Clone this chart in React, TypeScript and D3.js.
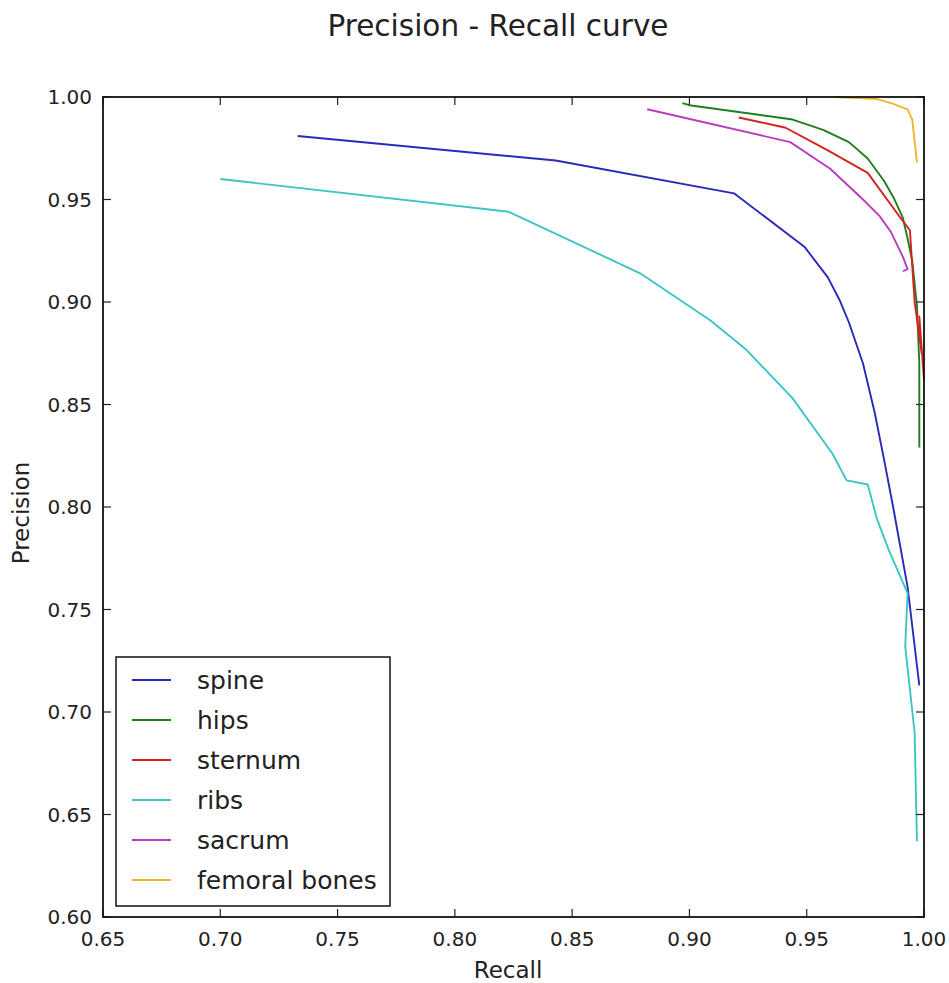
import React from 'react';
import * as d3 from 'd3';

// recall, precision pairs
const spine: [number, number][] = [
  [0.733, 0.981], [0.843, 0.969], [0.919, 0.953], [0.949, 0.927], [0.959, 0.912],
  [0.964, 0.901], [0.968, 0.890], [0.974, 0.870], [0.979, 0.846], [0.983, 0.823],
  [0.987, 0.799], [0.993, 0.761], [0.998, 0.713],
];
const hips: [number, number][] = [
  [0.897, 0.997], [0.900, 0.996], [0.944, 0.989], [0.957, 0.984], [0.968, 0.978],
  [0.976, 0.970], [0.983, 0.959], [0.987, 0.951], [0.991, 0.941], [0.993, 0.931],
  [0.995, 0.920], [0.997, 0.898], [0.998, 0.870], [0.998, 0.829],
];
const sternum: [number, number][] = [
  [0.921, 0.990], [0.941, 0.985], [0.959, 0.974], [0.976, 0.963], [0.990, 0.941],
  [0.994, 0.935], [0.996, 0.900], [0.999, 0.875], [0.998, 0.893], [1.000, 0.862],
];
const ribs: [number, number][] = [
  [0.700, 0.960], [0.823, 0.944], [0.879, 0.914], [0.909, 0.891], [0.924, 0.877],
  [0.944, 0.853], [0.961, 0.826], [0.967, 0.813], [0.976, 0.811], [0.980, 0.794],
  [0.985, 0.779], [0.993, 0.758], [0.992, 0.732], [0.996, 0.690], [0.997, 0.637],
];
const sacrum: [number, number][] = [
  [0.882, 0.994], [0.943, 0.978], [0.960, 0.965], [0.974, 0.950], [0.981, 0.942],
  [0.986, 0.934], [0.991, 0.922], [0.993, 0.916], [0.991, 0.915],
];
const femoral: [number, number][] = [
  [0.962, 1.000], [0.980, 0.999], [0.986, 0.997], [0.993, 0.994], [0.995, 0.989], [0.997, 0.968],
];

const seriesNames = ['spine', 'hips', 'sternum', 'ribs', 'sacrum', 'femoral bones'];
const seriesData = [spine, hips, sternum, ribs, sacrum, femoral];
const seriesColors = ['#2a2ab8', '#1f7f1f', '#d42222', '#3ec4c4', '#b83cc0', '#f0b430'];

const xTicks = [0.65, 0.7, 0.75, 0.8, 0.85, 0.9, 0.95, 1.0];
const yTicks = [0.6, 0.65, 0.7, 0.75, 0.8, 0.85, 0.9, 0.95, 1.0];

const W = 949;
const H = 983;
const m = { left: 103, right: 924, top: 97, bottom: 917 };
const font = 'DejaVu Sans, sans-serif';

export default function App() {
  const x = d3.scaleLinear().domain([0.65, 1.0]).range([m.left, m.right]);
  const y = d3.scaleLinear().domain([0.6, 1.0]).range([m.bottom, m.top]);
  const line = d3.line<[number, number]>().x(d => x(d[0])).y(d => y(d[1]));
  const fmt = d3.format('.2f');
  const tl = 8;

  return (
    <svg width={W} height={H} style={{ position: 'absolute', left: 0, top: 0, background: '#fff' }}
      fontFamily={font}>
      <rect x={0} y={0} width={W} height={H} fill="#fff" />
      <text x={498} y={36} fontSize={29.5} textAnchor="middle" fill="#222">Precision - Recall curve</text>

      {/* curves */}
      <g fill="none" strokeWidth={1.9} strokeLinejoin="round">
        {seriesData.map((d, i) => (
          <path key={seriesNames[i]} d={line(d) || ''} stroke={seriesColors[i]} />
        ))}
      </g>

      {/* ticks, inside on all four sides */}
      <g stroke="#222" strokeWidth={1.2}>
        {xTicks.map(t => (
          <g key={'x' + t}>
            <line x1={x(t)} x2={x(t)} y1={m.bottom} y2={m.bottom - tl} />
            <line x1={x(t)} x2={x(t)} y1={m.top} y2={m.top + tl} />
          </g>
        ))}
        {yTicks.map(t => (
          <g key={'y' + t}>
            <line x1={m.left} x2={m.left + tl} y1={y(t)} y2={y(t)} />
            <line x1={m.right} x2={m.right - tl} y1={y(t)} y2={y(t)} />
          </g>
        ))}
      </g>
      <rect x={m.left} y={m.top} width={m.right - m.left} height={m.bottom - m.top}
        fill="none" stroke="#111" strokeWidth={1.8} />

      <g fontSize={20} fill="#222">
        {xTicks.map(t => (
          <text key={'xl' + t} x={x(t)} y={946} textAnchor="middle">{fmt(t)}</text>
        ))}
        {yTicks.map(t => (
          <text key={'yl' + t} x={92} y={y(t) + 7} textAnchor="end">{fmt(t)}</text>
        ))}
      </g>

      <text x={508} y={978} fontSize={23} textAnchor="middle" fill="#222">Recall</text>
      <text transform="translate(29,513) rotate(-90)" fontSize={23} textAnchor="middle" fill="#222">Precision</text>

      {/* legend */}
      <g>
        <rect x={116} y={657} width={274} height={249} fill="#fff" stroke="#111" strokeWidth={1.5} />
        {seriesNames.map((n, i) => (
          <g key={'lg' + n} transform={`translate(0,${680 + i * 40})`}>
            <line x1={132} x2={171} y1={0} y2={0} stroke={seriesColors[i]} strokeWidth={1.9} />
            <text x={197} y={8.5} fontSize={25} fill="#222">{n}</text>
          </g>
        ))}
      </g>
    </svg>
  );
}
